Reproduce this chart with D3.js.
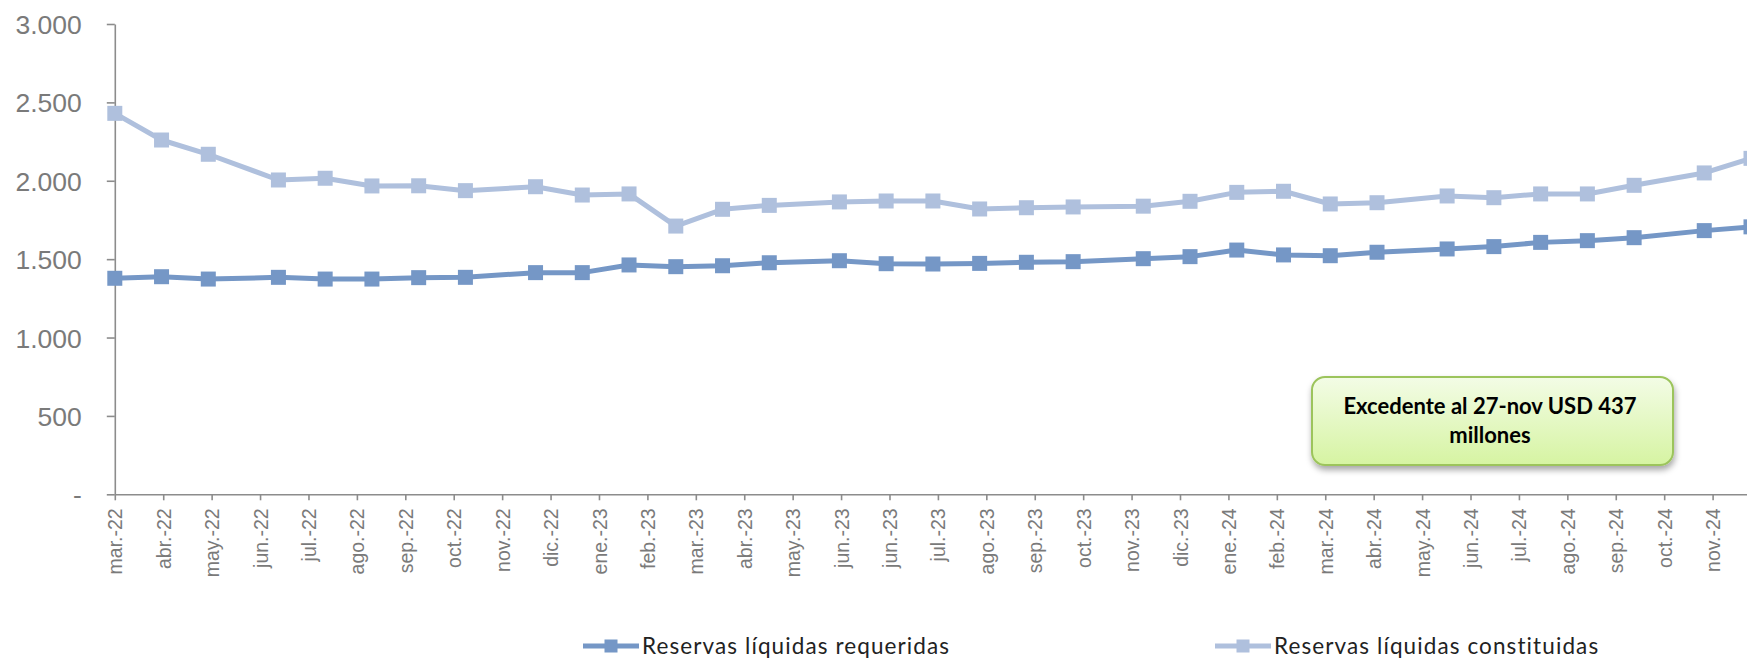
<!DOCTYPE html>
<html>
<head>
<meta charset="utf-8">
<script src="https://cdn.jsdelivr.net/npm/d3@7"></script>
<style>
  html, body { margin: 0; padding: 0; background: #fff; }
  svg { display: block; font-family: Lato, "Open Sans", sans-serif; }
</style>
</head>
<body>
<svg id="chart" width="1747" height="658"></svg>
<script>
// fechas de corte (miércoles), valores en millones USD
var fechas = ["2022-03-23","2022-04-20","2022-05-18","2022-06-29","2022-07-27","2022-08-24","2022-09-21","2022-10-19","2022-11-30","2022-12-28",
              "2023-01-25","2023-02-22","2023-03-22","2023-04-19","2023-05-31","2023-06-28","2023-07-26","2023-08-23","2023-09-20","2023-10-18",
              "2023-11-29","2023-12-27","2024-01-24","2024-02-21","2024-03-20","2024-04-17","2024-05-29","2024-06-26","2024-07-24","2024-08-21",
              "2024-09-18","2024-10-30","2024-11-27"];
var requeridas = [1378, 1388, 1373, 1384, 1373, 1373, 1382, 1384, 1414, 1414,
                  1463, 1452, 1458, 1477, 1490, 1471, 1469, 1473, 1480, 1484,
                  1503, 1516, 1558, 1527, 1522, 1544, 1565, 1580, 1607, 1618,
                  1637, 1682, 1706];
var constituidas = [2430, 2260, 2169, 2005, 2016, 1967, 1968, 1937, 1962, 1909,
                    1916, 1711, 1818, 1843, 1865, 1871, 1871, 1820, 1828, 1833,
                    1838, 1869, 1926, 1933, 1852, 1860, 1903, 1892, 1916, 1916,
                    1971, 2050, 2143];
var etiquetasX = ["mar.-22","abr.-22","may.-22","jun.-22","jul.-22","ago.-22","sep.-22","oct.-22","nov.-22","dic.-22",
                  "ene.-23","feb.-23","mar.-23","abr.-23","may.-23","jun.-23","jun.-23","jul.-23","ago.-23","sep.-23",
                  "oct.-23","nov.-23","dic.-23","ene.-24","feb.-24","mar.-24","abr.-24","may.-24","jun.-24","jul.-24",
                  "ago.-24","sep.-24","oct.-24","nov.-24"];
var ticksY = [0, 500, 1000, 1500, 2000, 2500, 3000];
var series = ["Reservas líquidas requeridas", "Reservas líquidas constituidas"];

var colorReq = "#7597c6";
var colorCons = "#afc0dd";

var parse = d3.utcParse("%Y-%m-%d");
var dates = fechas.map(parse);

var svg = d3.select("#chart");

var x = d3.scaleUtc()
    .domain([dates[0], dates[dates.length - 1]])
    .range([114.8, 1751]);
var y = d3.scaleLinear()
    .domain([0, 3000])
    .range([494.3, 24]);

// ticks del eje cada 29 dias desde el primer corte (como el eje de fechas de excel)
var tickDates = etiquetasX.map(function(d, i) { return d3.utcDay.offset(dates[0], 29 * i); });

var es = d3.formatLocale({decimal: ",", thousands: ".", grouping: [3], currency: ["$", ""]});
var fmt = es.format(",");

// eje Y
var gy = svg.append("g")
    .attr("transform", "translate(114.8,0)")
    .call(d3.axisLeft(y).tickValues(ticksY).tickSize(8).tickSizeOuter(0).tickPadding(25)
        .tickFormat(function(d) { return d === 0 ? "-" : fmt(d); }));
gy.select(".domain").attr("stroke", "#8c8c8c").attr("stroke-width", 1.6);
gy.selectAll(".tick line").attr("stroke", "#8c8c8c").attr("stroke-width", 1.6);
gy.selectAll(".tick text").attr("fill", "#7a7a7a").style("font-size", "26.5px").attr("dy", "0.36em");

// eje X
var gx = svg.append("g")
    .attr("transform", "translate(0,494.3)")
    .call(d3.axisBottom(x).tickValues(tickDates).tickSize(6).tickSizeOuter(0)
        .tickFormat(function(d, i) { return etiquetasX[i]; }));
gx.select(".domain").attr("stroke", "#8c8c8c").attr("stroke-width", 1.6);
gx.selectAll(".tick line").attr("stroke", "#8c8c8c").attr("stroke-width", 1.6);
gx.selectAll(".tick text")
    .attr("fill", "#7a7a7a")
    .style("font-size", "19.5px")
    .style("text-anchor", "end")
    .attr("x", -14)
    .attr("y", 0)
    .attr("dy", "0.36em")
    .attr("transform", "rotate(-90)");

// lineas
var line = d3.line()
    .x(function(d) { return x(d[0]); })
    .y(function(d) { return y(d[1]); });

function drawSerie(vals, color) {
    var pts = dates.map(function(d, i) { return [d, vals[i]]; });
    svg.append("path")
        .datum(pts)
        .attr("fill", "none")
        .attr("stroke", color)
        .attr("stroke-width", 5)
        .attr("stroke-linejoin", "round")
        .attr("d", line);
    svg.append("g").selectAll("rect")
        .data(pts)
        .enter().append("rect")
        .attr("x", function(d) { return x(d[0]) - 7.5; })
        .attr("y", function(d) { return y(d[1]) - 7.5; })
        .attr("width", 15)
        .attr("height", 15)
        .attr("fill", color);
}
drawSerie(requeridas, colorReq);
drawSerie(constituidas, colorCons);

// cuadro de anotacion
var defs = svg.append("defs");
var grad = defs.append("linearGradient").attr("id", "verde").attr("x1", 0).attr("y1", 0).attr("x2", 0).attr("y2", 1);
grad.append("stop").attr("offset", "0%").attr("stop-color", "#f3fce6");
grad.append("stop").attr("offset", "100%").attr("stop-color", "#d6f4a2");
var sh = defs.append("filter").attr("id", "sombra").attr("x", "-10%").attr("y", "-10%").attr("width", "120%").attr("height", "140%");
sh.append("feDropShadow").attr("dx", 1).attr("dy", 4).attr("stdDeviation", 3)
    .attr("flood-color", "#000").attr("flood-opacity", 0.35);

svg.append("rect")
    .attr("x", 1312).attr("y", 377).attr("width", 361).attr("height", 88)
    .attr("rx", 13).attr("ry", 13)
    .attr("fill", "url(#verde)")
    .attr("stroke", "#9cc45c").attr("stroke-width", 2)
    .attr("filter", "url(#sombra)");
var nota = svg.append("text")
    .attr("text-anchor", "middle")
    .attr("fill", "#000")
    .style("font-weight", "bold")
    .style("font-size", "22px");
nota.append("tspan").attr("x", 1490).attr("y", 414).text("Excedente al 27-nov USD 437");
nota.append("tspan").attr("x", 1490).attr("y", 443).text("millones");

// leyenda
var leyenda = [
    {nombre: series[0], color: colorReq, x0: 583},
    {nombre: series[1], color: colorCons, x0: 1215}
];
var lg = svg.append("g").selectAll("g").data(leyenda).enter().append("g")
    .attr("transform", function(d) { return "translate(" + d.x0 + ",646)"; });
lg.append("line").attr("x1", 0).attr("x2", 56).attr("y1", 0).attr("y2", 0)
    .attr("stroke", function(d) { return d.color; }).attr("stroke-width", 5);
lg.append("rect").attr("x", 21.5).attr("y", -6.5).attr("width", 13).attr("height", 13)
    .attr("fill", function(d) { return d.color; });
lg.append("text").attr("x", 59).attr("y", 0).attr("dy", "0.36em")
    .attr("fill", "#222")
    .style("font-size", "22.5px")
    .style("letter-spacing", "1.1px")
    .text(function(d) { return d.nombre; });
</script>
</body>
</html>
